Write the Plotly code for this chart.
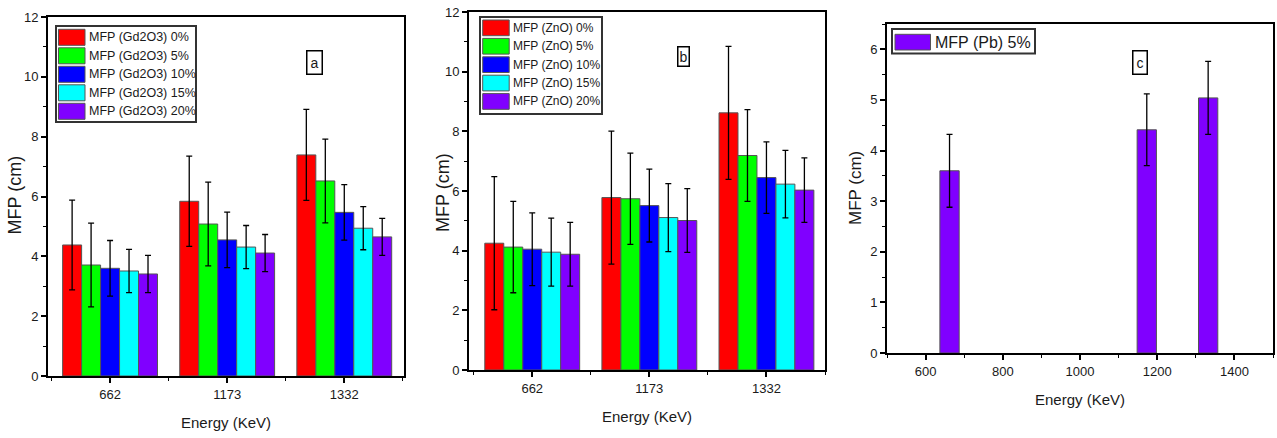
import plotly.graph_objects as go

# ---------------- data ----------------
energies = ["662", "1173", "1332"]
energy_num = [662, 1173, 1332]

gd_labels = ["MFP (Gd2O3) 0%", "MFP (Gd2O3) 5%", "MFP (Gd2O3) 10%", "MFP (Gd2O3) 15%", "MFP (Gd2O3) 20%"]
gd_0 = [4.38, 5.84, 7.39]
gd_5 = [3.71, 5.08, 6.52]
gd_10 = [3.60, 4.55, 5.47]
gd_15 = [3.51, 4.31, 4.94]
gd_20 = [3.41, 4.11, 4.65]
gd_err_0 = [1.50, 1.51, 1.52]
gd_err_5 = [1.40, 1.40, 1.40]
gd_err_10 = [0.93, 0.93, 0.93]
gd_err_15 = [0.72, 0.72, 0.72]
gd_err_20 = [0.62, 0.62, 0.62]

zn_labels = ["MFP (ZnO) 0%", "MFP (ZnO) 5%", "MFP (ZnO) 10%", "MFP (ZnO) 15%", "MFP (ZnO) 20%"]
zn_0 = [4.25, 5.78, 8.62]
zn_5 = [4.12, 5.74, 7.19]
zn_10 = [4.05, 5.51, 6.45]
zn_15 = [3.95, 5.11, 6.23]
zn_20 = [3.88, 5.01, 6.03]
zn_err_0 = [2.23, 2.23, 2.23]
zn_err_5 = [1.53, 1.53, 1.54]
zn_err_10 = [1.22, 1.22, 1.20]
zn_err_15 = [1.14, 1.14, 1.13]
zn_err_20 = [1.07, 1.07, 1.08]

pb_label = "MFP (Pb) 5%"
pb_5 = [3.60, 4.41, 5.04]
pb_err = [0.72, 0.71, 0.72]

colors = ["#ff0000", "#00ff00", "#0000ff", "#00ffff", "#8000ff"]

# ---------------- figure ----------------
W, H = 1277, 438
FONT = "Arial, 'Liberation Sans', sans-serif"
TXT = "#1a1a1a"

def px_x(p):
    return p / W

def px_y(p):
    return 1 - p / H

fig = go.Figure()

pos = list(range(len(energies)))

gd_series = [gd_0, gd_5, gd_10, gd_15, gd_20]
gd_errs = [gd_err_0, gd_err_5, gd_err_10, gd_err_15, gd_err_20]
zn_series = [zn_0, zn_5, zn_10, zn_15, zn_20]
zn_errs = [zn_err_0, zn_err_5, zn_err_10, zn_err_15, zn_err_20]

err_style = dict(type="data", color="black", thickness=1.3, width=3, visible=True)
bar_line = dict(color="#555555", width=1)

for i in range(5):
    fig.add_trace(go.Bar(
        x=pos, y=gd_series[i], name=gd_labels[i],
        marker=dict(color=colors[i], line=bar_line),
        error_y=dict(array=gd_errs[i], **err_style),
        xaxis="x", yaxis="y", offsetgroup="a%d" % i, showlegend=False,
    ))
for i in range(5):
    fig.add_trace(go.Bar(
        x=pos, y=zn_series[i], name=zn_labels[i],
        marker=dict(color=colors[i], line=bar_line),
        error_y=dict(array=zn_errs[i], **err_style),
        xaxis="x2", yaxis="y2", offsetgroup="b%d" % i, showlegend=False,
    ))
fig.add_trace(go.Bar(
    x=energy_num, y=pb_5, name=pb_label, width=50,
    marker=dict(color=colors[4], line=bar_line),
    error_y=dict(array=pb_err, **err_style),
    xaxis="x3", yaxis="y3", showlegend=False,
))

axis_common = dict(
    showline=True, linecolor="black", linewidth=2, mirror=True,
    ticks="outside", ticklen=5, tickwidth=1.5, tickcolor="black",
    showgrid=False, zeroline=False, automargin=False,
    tickfont=dict(family=FONT, size=13, color=TXT),
)
xtitle_font = dict(family=FONT, size=15, color=TXT)

minor_style = dict(ticks="outside", ticklen=3, tickwidth=1.2, tickcolor="black")
cat_minor = dict(tickvals=[-0.5, 0.5, 1.5, 2.5], **minor_style)

fig.update_layout(
    width=W, height=H,
    margin=dict(l=0, r=0, t=0, b=0),
    paper_bgcolor="white", plot_bgcolor="white",
    barmode="group", bargap=0.19, bargroupgap=0,
    showlegend=False,
    font=dict(family=FONT, color=TXT),
    xaxis=dict(domain=[px_x(48), px_x(404)], anchor="y", range=[-0.53, 2.51],
               tickmode="array", tickvals=pos, ticktext=energies, minor=cat_minor,
               title=dict(text="Energy (KeV)", standoff=17, font=xtitle_font), **axis_common),
    yaxis=dict(domain=[px_y(376), px_y(17)], anchor="x", range=[0, 12], dtick=2,
               minor=dict(dtick=1, **minor_style), **axis_common),
    xaxis2=dict(domain=[px_x(469), px_x(825)], anchor="y2", range=[-0.54, 2.50],
                tickmode="array", tickvals=pos, ticktext=energies, minor=cat_minor,
                title=dict(text="Energy (KeV)", standoff=17, font=xtitle_font), **axis_common),
    yaxis2=dict(domain=[px_y(370), px_y(12)], anchor="x2", range=[0, 12], dtick=2,
                minor=dict(dtick=1, **minor_style), **axis_common),
    xaxis3=dict(domain=[px_x(887), px_x(1273)], anchor="y3", range=[500, 1500], dtick=200,
                minor=dict(dtick=100, **minor_style),
                title=dict(text="Energy (KeV)", standoff=17, font=xtitle_font), **axis_common),
    yaxis3=dict(domain=[px_y(353), px_y(24)], anchor="x3", range=[0, 6.5], dtick=1,
                minor=dict(dtick=0.5, **minor_style), **axis_common),
)

# y-axis titles (placed as rotated text, as in the reference they hug the tick labels)
for xc, yc, size in [(14.5, 195, 18), (443, 193, 18), (855, 188, 17)]:
    fig.add_annotation(text="MFP (cm)", xref="paper", yref="paper",
                       x=px_x(xc), y=px_y(yc), textangle=-90, showarrow=False,
                       xanchor="center", yanchor="middle",
                       font=dict(family=FONT, size=size, color=TXT))

# ---------------- legends (boxed, large swatches as in the reference) ----------------
def add_legend(box, sw_x, sw_y0, sw_w, sw_h, step, text_x, labels, cols, font):
    x0, y0, x1, y1 = box
    fig.add_shape(type="rect", xref="paper", yref="paper",
                  x0=px_x(x0), x1=px_x(x1), y0=px_y(y1), y1=px_y(y0),
                  line=dict(color="#333333", width=2), fillcolor="white", layer="above")
    for k, (lab, col) in enumerate(zip(labels, cols)):
        top = sw_y0 + k * step
        fig.add_shape(type="rect", xref="paper", yref="paper",
                      x0=px_x(sw_x), x1=px_x(sw_x + sw_w),
                      y0=px_y(top + sw_h), y1=px_y(top),
                      line=dict(color="#555555", width=1), fillcolor=col, layer="above")
        fig.add_annotation(text=lab, xref="paper", yref="paper",
                           x=px_x(text_x), y=px_y(top + sw_h / 2),
                           xanchor="left", yanchor="middle", showarrow=False,
                           font=font)

add_legend((56, 26, 196, 122), 58.5, 29.3, 26.5, 16, 18.5, 87, gd_labels, colors,
           dict(family=FONT, size=12.5, color=TXT))
add_legend((480, 17, 602, 114), 482.7, 20, 26.5, 15.7, 18.4, 510.5, zn_labels, colors,
           dict(family=FONT, size=12, color=TXT))
add_legend((892, 29, 1035, 53.5), 895, 34.3, 35.5, 15.7, 18.4, 932.5, [pb_label], [colors[4]],
           dict(family=FONT, size=16, color=TXT))

for txt, xc, yc, pad in [("a", 306, 50, 3), ("b", 683, 46, 1), ("c", 1148, 50, 3)]:
    fig.add_annotation(
        text=txt, xref="paper", yref="paper", x=px_x(xc), y=px_y(yc),
        showarrow=False, font=dict(family=FONT, size=14, color=TXT),
        bordercolor="black", borderwidth=1.5, borderpad=pad, bgcolor="white",
    )

fig.write_html("out.html", config={"displayModeBar": False},
               post_script="document.body.style.margin='0px';")
